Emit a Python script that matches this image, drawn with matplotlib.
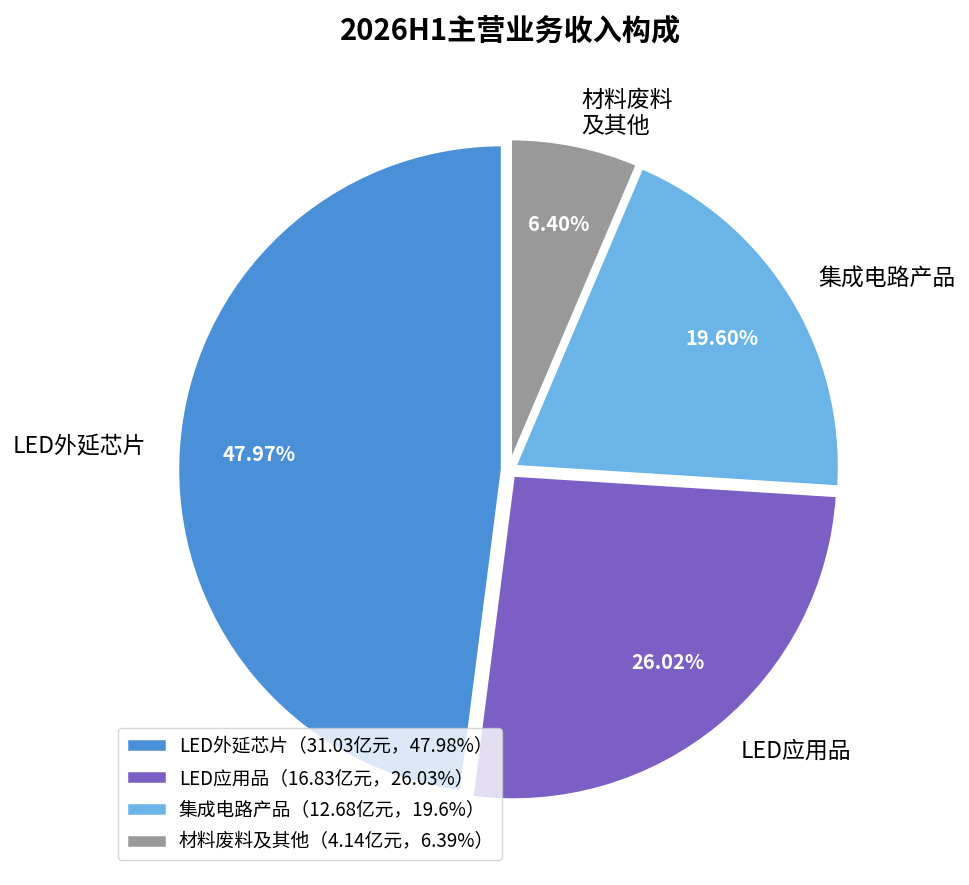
import matplotlib
matplotlib.use("Agg")
import matplotlib.pyplot as plt

plt.rcParams['font.family'] = ['Noto Sans CJK SC', 'DejaVu Sans']

categories = ['LED外延芯片', 'LED应用品', '集成电路产品', '材料废料\n及其他']
values = [31.03, 16.83, 12.68, 4.14]
legend_labels = ['LED外延芯片（31.03亿元，47.98%）',
                 'LED应用品（16.83亿元，26.03%）',
                 '集成电路产品（12.68亿元，19.6%）',
                 '材料废料及其他（4.14亿元，6.39%）']
colors = ['#4A90D9', '#7B5FC4', '#6AB4E8', '#999999']
title = '2026H1主营业务收入构成'

W, H = 969, 885
fig = plt.figure(figsize=(W/100, H/100), dpi=100)
R = 325
cx, cy = 509, H - 470
side = 2.5 * R
ax = fig.add_axes([(cx - side/2)/W, (cy - side/2)/H, side/W, side/H])

wedges, texts, autotexts = ax.pie(
    values, labels=categories, colors=colors, startangle=90,
    autopct='%.2f%%', pctdistance=0.75, labeldistance=1.1,
    explode=[0.02]*4,
    wedgeprops=dict(edgecolor='white', linewidth=2.5),
    textprops=dict(fontsize=16.5))
for t in autotexts:
    t.set_color('white')
    t.set_fontweight('bold')
    t.set_fontsize(14.5)
ax.set_aspect('equal')

fig.text(0.527, 1 - 30/H, title, ha='center', va='center', fontsize=21, fontweight='bold')

fig.legend(wedges, legend_labels, loc='lower left',
           bbox_to_anchor=(118/W, 25/H), bbox_transform=fig.transFigure,
           fontsize=13.5, handlelength=2.2, handleheight=0.75, handletextpad=0.65,
           labelspacing=0.58, borderaxespad=0, framealpha=0.8)

fig.savefig('out.png', dpi=100)
